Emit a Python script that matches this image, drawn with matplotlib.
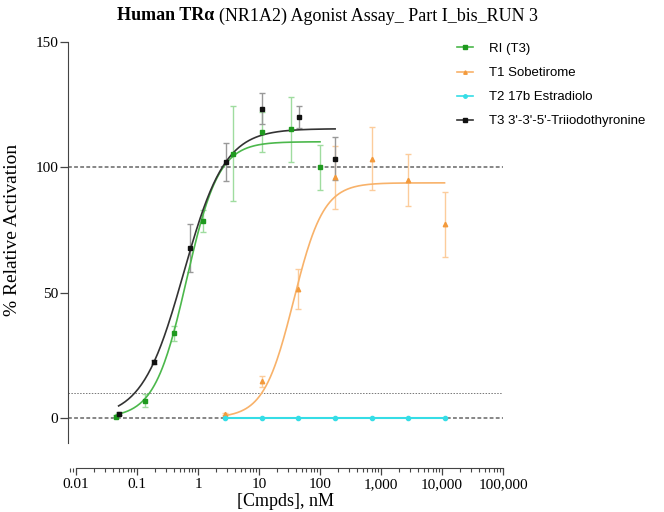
#!/usr/bin/env python3
# Human TRa agonist dose-response (Prism-style replica)
import numpy as np
import matplotlib
matplotlib.use("Agg")
import matplotlib.pyplot as plt
from matplotlib.ticker import FixedLocator, FixedFormatter, LogLocator, NullFormatter

SERIF = "Liberation Serif"
SANS = "Liberation Sans"

# ===================== DATA =====================
# RI (T3) - green
ri_conc = [0.046, 0.137, 0.41, 1.23, 3.7, 11.1, 33.3, 100]
ri_resp = [0.4, 6.9, 33.8, 78.4, 105.4, 114.2, 115.1, 100.0]
ri_err = [0.6, 2.5, 3.0, 4.4, 19.0, 8.0, 13.0, 9.0]

# T1 Sobetirome - orange
sob_conc = [2.8, 11.2, 44, 175, 700, 2750, 11000]
sob_resp = [1.5, 14.7, 51.6, 96.0, 103.5, 95.0, 77.2]
sob_err = [0.5, 2.2, 8.0, 12.6, 12.5, 10.5, 13.0]

# T2 17b Estradiolo - cyan
e2_conc = [2.8, 11.2, 44, 175, 700, 2750, 11000]
e2_resp = [0.0, 0.0, 0.0, 0.0, 0.0, 0.0, 0.0]

# T3 3'-3'-5'-Triiodothyronine - black
t3_conc = [0.05, 0.19, 0.74, 2.9, 11.3, 44.7, 177]
t3_resp = [1.6, 22.3, 67.9, 102.3, 123.4, 120.0, 103.5]
t3_err = [0.6, 0.8, 9.5, 7.6, 6.3, 4.4, 8.7]

# 4PL fit parameters: bottom, top, EC50 (nM), Hill slope
ri_fit = (0.0, 110.2, 0.65, 1.65)
sob_fit = (0.0, 93.8, 37.0, 1.77)
t3_fit = (0.0, 115.4, 0.58, 1.28)

x_ticks = [0.01, 0.1, 1, 10, 100, 1000, 10000, 100000]
x_tick_labels = ["0.01", "0.1", "1", "10", "100", "1,000", "10,000", "100,000"]
y_ticks = [0, 50, 100, 150]
ref_lines = [100, 10, 0]


def four_pl(x, p):
    bottom, top, ec50, hill = p
    return bottom + (top - bottom) / (1 + (ec50 / x) ** hill)


def fit_curve(conc, p):
    xs = np.logspace(np.log10(min(conc)), np.log10(max(conc)), 200)
    return xs, four_pl(xs, p)


# ===================== PLOT =====================
W, H = 664, 512
fig = plt.figure(figsize=(W / 100, H / 100), dpi=100)
ax = fig.add_axes([68 / W, 1 - 443 / H, (503 - 68) / W, (443 - 42) / H])

ax.set_xscale("log")
ax.set_xlim(10 ** -2.131, 1e5)
ax.set_ylim(-10, 150)

# reference lines
ax.axhline(ref_lines[0], color="#666666", lw=1.1, ls=(0, (2.5, 1.5)), zorder=1)
ax.axhline(ref_lines[1], color="#777777", lw=0.7, ls=(0, (1.5, 1.5)), zorder=1)
ax.axhline(ref_lines[2], color="#666666", lw=1.1, ls=(0, (2.5, 1.5)), zorder=1)

series = [
    ("RI (T3)", ri_conc, ri_resp, ri_err, ri_fit, "#1f9a1f", "#4cb84c", "#9fdc9f", "s", 3.2),
    ("T1 Sobetirome", sob_conc, sob_resp, sob_err, sob_fit, "#f39a3c", "#f8b26a", "#fccc9c", "^", 3.2),
    ("T2 17b Estradiolo", e2_conc, e2_resp, None, None, "#35dde6", "#35dde6", "#35dde6", "o", 3.0),
    ("T3 3'-3'-5'-Triiodothyronine", t3_conc, t3_resp, t3_err, t3_fit, "#111111", "#333333", "#999999", "s", 3.4),
]

handles = []
for label, conc, resp, err, fit, mcol, lcol, ecol, mk, ms in series:
    if err is not None:
        ax.errorbar(conc, resp, yerr=err, fmt="none", ecolor=ecol, elinewidth=1.0,
                    capsize=2.5, capthick=1.0, zorder=2)
    if fit is not None:
        xs, ys = fit_curve(conc, fit)
        ax.plot(xs, ys, color=lcol, lw=1.2, zorder=3)
    else:
        ax.plot(conc, resp, color=lcol, lw=1.5, zorder=3)
    ax.plot(conc, resp, ls="none", marker=mk, ms=ms, color=mcol, zorder=4)
    h, = ax.plot([], [], color=lcol, lw=1.2, marker=mk, ms=2.5, mfc=mcol, mec=mcol)
    handles.append((h, label))

# spines
for s in ("top", "right"):
    ax.spines[s].set_visible(False)
ax.spines["left"].set_color("#444444")
ax.spines["bottom"].set_color("#444444")
ax.spines["bottom"].set_position(("outward", 18))
ax.spines["bottom"].set_bounds(0.01, 1e5)

ax.yaxis.set_major_locator(FixedLocator(y_ticks))
ax.tick_params(axis="y", direction="out", length=6, width=0.9, color="#444444",
               labelsize=11, pad=1)
for t in ax.get_yticklabels():
    t.set_fontfamily(SERIF)

ax.xaxis.set_major_locator(FixedLocator(x_ticks))
ax.xaxis.set_major_formatter(FixedFormatter(x_tick_labels))
ax.xaxis.set_minor_locator(LogLocator(base=10, subs=np.arange(2, 10), numticks=20))
ax.xaxis.set_minor_formatter(NullFormatter())
ax.tick_params(axis="x", which="major", direction="out", length=5, width=0.9,
               color="#444444", labelsize=11, pad=2)
ax.tick_params(axis="x", which="minor", direction="out", length=3, width=0.8,
               color="#444444")
for t in ax.get_xticklabels():
    t.set_fontfamily(SERIF)

ax.set_xlabel("[Cmpds], nM", fontsize=13, family=SERIF, labelpad=2)
ax.set_ylabel("% Relative Activation", fontsize=14, family=SERIF)
ax.yaxis.set_label_coords(-(68 - 21) / (503 - 68), (443 - 230) / (443 - 42))

# title: bold part + regular part placed right after it
t1 = fig.text(117 / W, 1 - 16 / H, "Human TR\u03b1", fontsize=13, family=SERIF,
              fontweight="bold", ha="left", va="center")
fig.canvas.draw()
bb = t1.get_window_extent()
fig.text((bb.x1 + 5) / W, 1 - 16 / H, "(NR1A2) Agonist Assay_ Part I_bis_RUN 3",
         fontsize=13, family=SERIF, ha="left", va="center")

leg = fig.legend([h for h, _ in handles], [l for _, l in handles],
                 loc="upper left", bbox_to_anchor=(445 / W, 1 - 31 / H),
                 frameon=False, prop={"family": SANS, "size": 9.5},
                 handlelength=1.2, handletextpad=1.2, labelspacing=0.9)

fig.savefig("out.png", dpi=100)
